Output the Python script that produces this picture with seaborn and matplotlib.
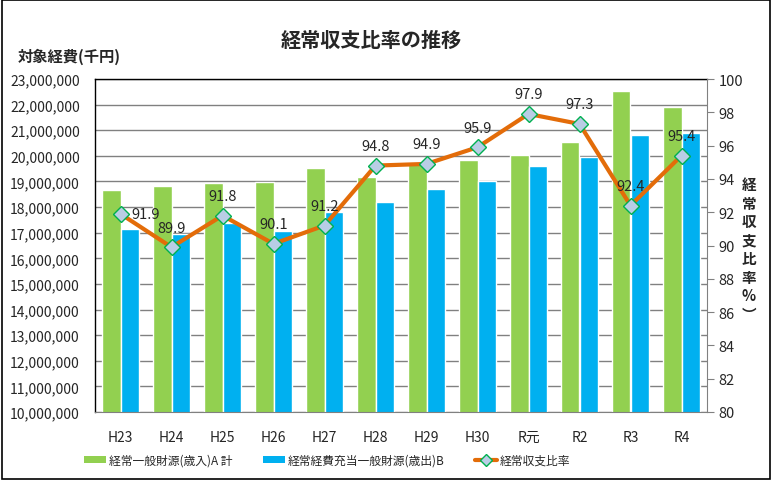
import numpy as np
import pandas as pd
import matplotlib
matplotlib.use("Agg")
import matplotlib.pyplot as plt
import matplotlib.ticker as mticker
from matplotlib.lines import Line2D
from matplotlib.patches import Patch, Rectangle
import seaborn as sns

# ---- data ----
years = ["H23", "H24", "H25", "H26", "H27", "H28", "H29", "H30", "R元", "R2", "R3", "R4"]
revenue_a = [18660000, 18820000, 18950000, 18960000, 19520000, 19170000,
             19720000, 19840000, 20030000, 20540000, 22530000, 21910000]
expense_b = [17140000, 16950000, 17380000, 17060000, 17800000, 18200000,
             18700000, 19020000, 19600000, 19970000, 20810000, 20890000]
ratio = [91.9, 89.9, 91.8, 90.1, 91.2, 94.8, 94.9, 95.9, 97.9, 97.3, 92.4, 95.4]

name_a = "経常一般財源(歳入)A 計"
name_b = "経常経費充当一般財源(歳出)B"
name_r = "経常収支比率"

green = "#92D050"
blue = "#00B0F0"
orange = "#E36C09"

df = pd.DataFrame({
    "year": years * 2,
    "value": revenue_a + expense_b,
    "series": [name_a] * len(years) + [name_b] * len(years),
})

sns.set_style("white")
plt.rcParams['font.family'] = ['Noto Sans CJK JP', 'DejaVu Sans']

fig = plt.figure(figsize=(7.72, 4.81), dpi=100)
ax = fig.add_axes([95 / 772, 1 - 413 / 481, 612 / 772, 333 / 481])

sns.barplot(data=df, x="year", y="value", hue="series",
            palette=[green, blue], width=0.74, saturation=1,
            ax=ax, legend=False)
ax.set_ylim(10000000, 23000000)
ax.yaxis.set_major_locator(mticker.MultipleLocator(1000000))
ax.yaxis.set_major_formatter(mticker.FuncFormatter(lambda v, p: f"{int(v):,}"))
ax.grid(axis="y", color="#808080", linewidth=1)
ax.set_axisbelow(True)
ax.set_xlabel("")
ax.set_ylabel("")
ax.tick_params(axis="y", labelsize=10, length=0, pad=11)
ax.tick_params(axis="x", labelsize=10, length=0, pad=13)
for s in ["left", "top"]:
    ax.spines[s].set_color("black")
    ax.spines[s].set_linewidth(1)
ax.spines["bottom"].set_color("#808080")
ax.spines["right"].set_visible(False)

# ratio line on right axis
ax2 = ax.twinx()
sns.lineplot(x=np.arange(len(years)), y=ratio, ax=ax2, color=orange,
             linewidth=3, marker="D", markersize=8,
             markerfacecolor="#B9CDE5", markeredgecolor="#00B050",
             markeredgewidth=1)
ax2.set_ylim(80, 100)
ax2.yaxis.set_major_locator(mticker.MultipleLocator(2))
ax2.tick_params(axis="y", labelsize=10.5, length=5, color="#808080", direction="out")
ax2.spines["right"].set_color("#808080")
ax2.spines["left"].set_visible(False)
ax2.spines["top"].set_visible(False)
ax2.spines["bottom"].set_visible(False)
ax2.set_xlim(-0.5, len(years) - 0.5)
ax.set_xlim(-0.5, len(years) - 0.5)

for i, r in enumerate(ratio):
    if i == 0:
        ax2.annotate(f"{r:.1f}", (i, r), xytext=(8, 0), textcoords="offset points",
                     ha="left", va="center", fontsize=10.5)
    else:
        ax2.annotate(f"{r:.1f}", (i, r), xytext=(0, 9), textcoords="offset points",
                     ha="center", va="bottom", fontsize=10.5)

# titles / axis labels
fig.text(371 / 772, 1 - 40 / 481, "経常収支比率の推移", ha="center", va="center",
         fontsize=14.5, fontweight="bold")
fig.text(18 / 772, 1 - 57 / 481, "対象経費(千円)", ha="left", va="center",
         fontsize=11, fontweight="bold")
fig.text(749 / 772, 1 - 250 / 481, "経\n常\n収\n支\n比\n率\n%\n︶", ha="center", va="center",
         fontsize=10.5, fontweight="bold", linespacing=1.2)

# legend
handles = [
    Patch(facecolor=green, edgecolor="none"),
    Patch(facecolor=blue, edgecolor="none"),
    Line2D([0], [0], color=orange, linewidth=3, marker="D", markersize=6,
           markerfacecolor="#B9CDE5", markeredgecolor="#00B050"),
]
fig.legend(handles, [name_a, name_b, name_r], loc="center", ncol=3,
           bbox_to_anchor=(327 / 772, 1 - 461 / 481), frameon=False, fontsize=8.5,
           handlelength=1.9, handleheight=0.6, columnspacing=2.6, handletextpad=0.2)

# figure border
fig.patches.append(Rectangle((0.002, 0.003), 0.995, 0.994, transform=fig.transFigure,
                             fill=False, edgecolor="black", linewidth=1.2))

fig.savefig("out.png", dpi=100)
